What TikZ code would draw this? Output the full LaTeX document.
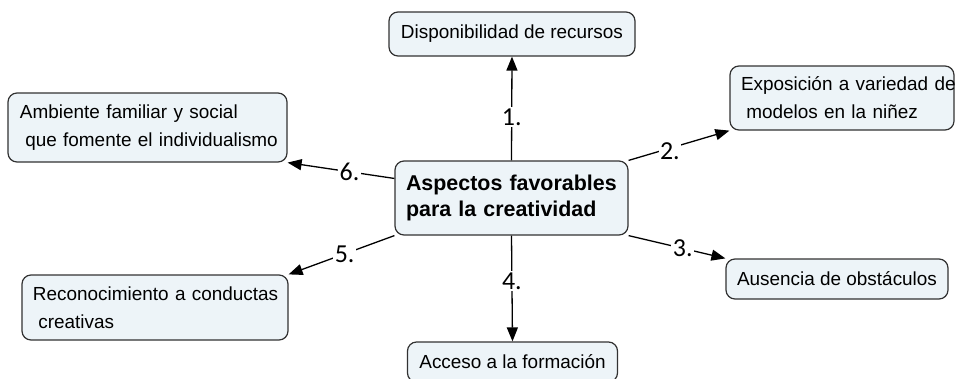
\documentclass[tikz,border=0pt]{standalone}
\usepackage{fontspec}
\setmainfont{Liberation Sans}
\newfontfamily\lblfont{Carlito}
\usetikzlibrary{arrows.meta,calc}
\definecolor{boxc}{RGB}{237,244,248}
\definecolor{bordc}{RGB}{50,50,50}
\tikzset{
  box/.style={draw=bordc, fill=boxc, line width=1.2bp, rounded corners=9bp,
    font=\fontsize{19}{28}\selectfont, inner ysep=0pt, anchor=center},
  lbox/.style={box, align=left},
  lbl/.style={fill=white, inner sep=1.5bp, font=\lblfont\fontsize{26}{26}\selectfont},
  arr/.style={line width=1.3bp, -{Triangle[length=14bp,width=11bp]}}
}
\begin{document}
\begin{tikzpicture}[x=1bp,y=-1bp]
\useasboundingbox (0,0) rectangle (957,378);
\node[box, minimum width=246bp, minimum height=44bp] (top) at (512,34) {Disponibilidad de recursos};
\node[lbox, text width=255bp, inner xsep=12bp, minimum height=69bp] (amb) at (147.5,127.5)
  {\mbox{Ambiente familiar y social}\\\mbox{\hspace*{0.28em}que fomente el individualismo}};
\node[lbox, text width=202bp, inner xsep=11bp, minimum height=64bp] (exp) at (842,98)
  {\mbox{Exposición a variedad de}\\\mbox{\hspace*{0.28em}modelos en la niñez}};
\node[lbox, text width=211bp, inner xsep=11bp, minimum height=74bp,
  font=\bfseries\fontsize{21.5}{27}\selectfont] (c) at (511.5,198)
  {\mbox{Aspectos favorables}\\\mbox{para la creatividad}};
\node[box, minimum width=222bp, minimum height=40bp] (aus) at (837,279) {Ausencia de obstáculos};
\node[lbox, text width=244bp, inner xsep=11bp, minimum height=65bp] (rec) at (155,307.5)
  {\mbox{Reconocimiento a conductas}\\\mbox{\hspace*{0.28em}creativas}};
\node[box, minimum width=210bp, minimum height=40bp] (acc) at (512.5,362) {Acceso a la formación};
\coordinate (c6) at ($(c.north west)!0.24!(c.south west)$);
\draw[arr] (c.north) -- node[lbl, pos=0.42] {1.} (top.south);
\draw[arr] (c.north east) -- node[lbl, pos=0.41, yshift=-3bp] {2.} (exp.south west);
\draw[arr] (c.south east) -- node[lbl, pos=0.56] {3.} (aus.north west);
\draw[arr] (c.south) -- node[lbl, pos=0.43] {4.} (acc.north);
\draw[arr] (c.south west) -- node[lbl, pos=0.47] {5.} (rec.north east);
\draw[arr] (c6) -- node[lbl, pos=0.42] {6.} (amb.south east);
\end{tikzpicture}
\end{document}
